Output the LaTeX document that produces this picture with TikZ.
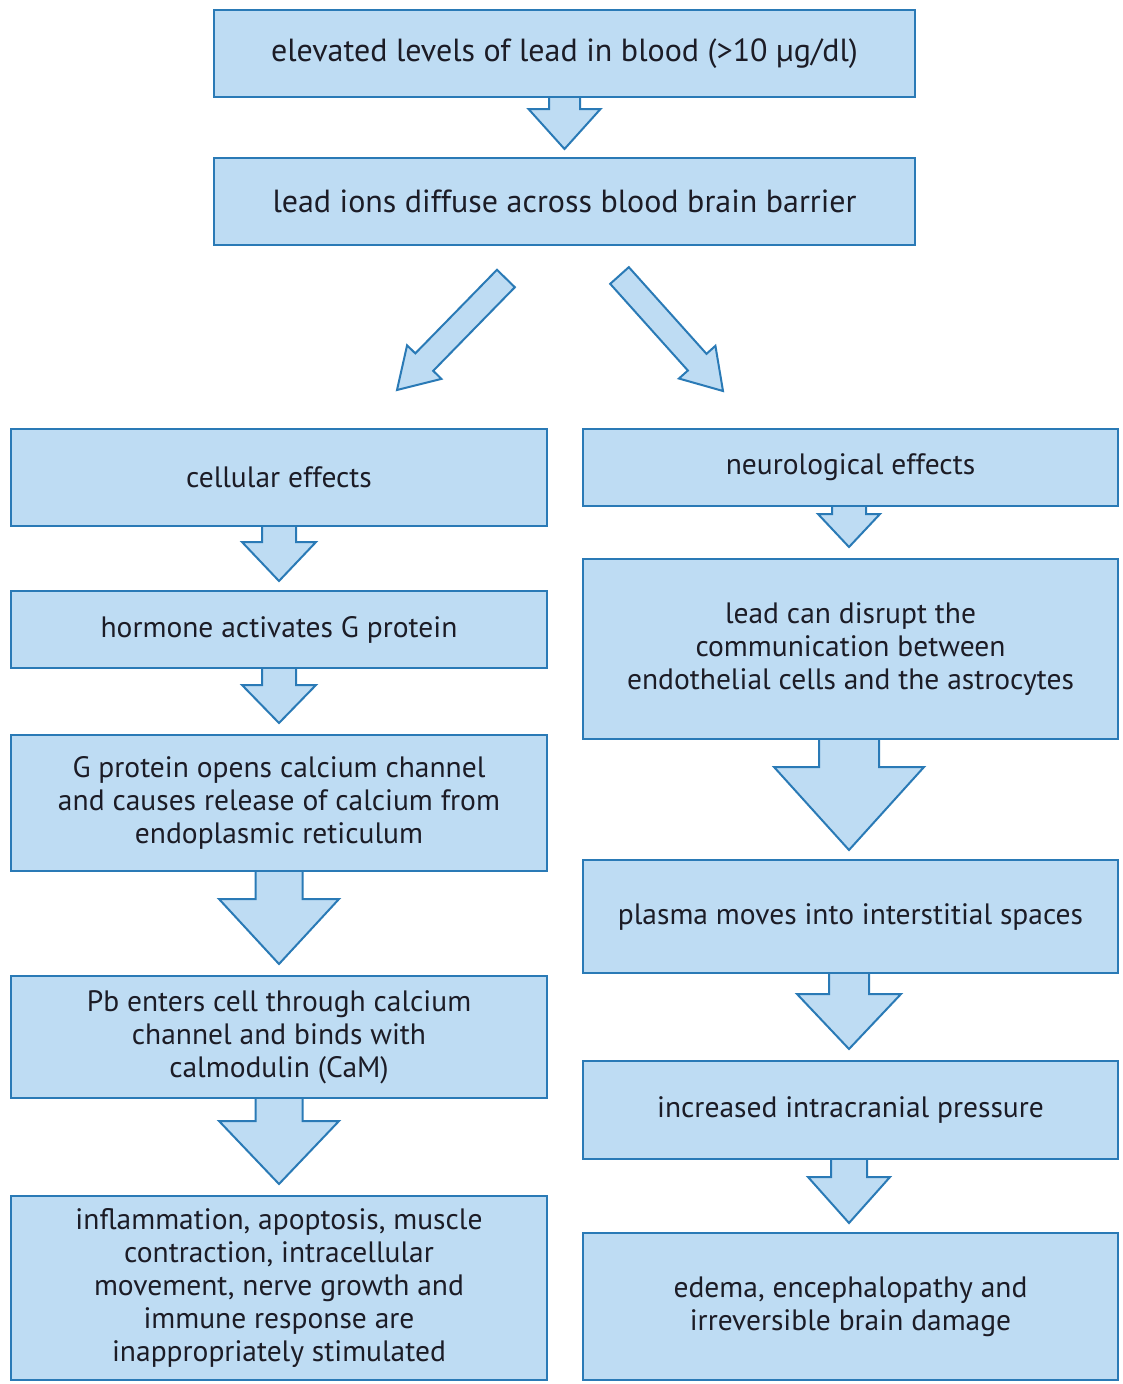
\documentclass[tikz,border=0pt]{standalone}
\usepackage{fontspec}
\setmainfont{PT Sans}
\usetikzlibrary{calc}
\definecolor{bfill}{RGB}{190,220,243}
\definecolor{bdr}{RGB}{42,122,182}
\definecolor{txt}{RGB}{28,28,38}
\tikzset{
  box/.style={draw=bdr, fill=bfill, line width=2pt, align=center, inner sep=0pt,
    font=\fontsize{29.5}{33}\selectfont, text=txt},
  topbox/.style={box, font=\fontsize{32}{36}\selectfont},
  ghost/.style={draw=none, fill=none},
  arrowline/.style={draw=bdr, line width=2pt, line join=miter},
  arrowfill/.style={fill=bfill}
}
% #1 start, #2 tip, #3 shaft half width, #4 head half width, #5 head length, #6 1=closed outline
\newcommand{\blockarr}[6]{%
  \coordinate (ah) at ($(#2)!#5!(#1)$);
  \coordinate (p1) at ($(#1)!#3!90:(#2)$);
  \coordinate (p2) at ($(ah)!#3!90:(#2)$);
  \coordinate (p3) at ($(ah)!#4!90:(#2)$);
  \coordinate (p4) at ($(ah)!#4!-90:(#2)$);
  \coordinate (p5) at ($(ah)!#3!-90:(#2)$);
  \coordinate (p6) at ($(#1)!#3!-90:(#2)$);
  \fill[arrowfill] (p1)--(p2)--(p3)--(#2)--(p4)--(p5)--(p6)--cycle;
  \ifnum#6=1
    \draw[arrowline] (p1)--(p2)--(p3)--(#2)--(p4)--(p5)--(p6)--cycle;
  \else
    \draw[arrowline] (p1)--(p2)--(p3)--(#2)--(p4)--(p5)--(p6);
  \fi
}
\begin{document}
\begin{tikzpicture}[x=1pt,y=-1pt]
\useasboundingbox (0,0) rectangle (1122,1384);
\fill[white] (0,0) rectangle (1122,1384);

% node placeholders for geometry (drawn later on top of arrows)
\path
  (564.5,53.5)  node[box, ghost, minimum width=701pt, minimum height=87pt] (b1) {}
  (564.5,201.5) node[box, ghost, minimum width=701pt, minimum height=87pt] (b2) {}
  (279,477.5)   node[box, ghost, minimum width=536pt, minimum height=97pt] (l1) {}
  (279,629.5)   node[box, ghost, minimum width=536pt, minimum height=77pt] (l2) {}
  (279,803)     node[box, ghost, minimum width=536pt, minimum height=136pt] (l3) {}
  (279,1037)    node[box, ghost, minimum width=536pt, minimum height=122pt] (l4) {}
  (279,1288)    node[box, ghost, minimum width=536pt, minimum height=184pt] (l5) {}
  (850.5,467.5) node[box, ghost, minimum width=535pt, minimum height=77pt] (r1) {}
  (850.5,649)   node[box, ghost, minimum width=535pt, minimum height=180pt] (r2) {}
  (850.5,916.5) node[box, ghost, minimum width=535pt, minimum height=113pt] (r3) {}
  (850.5,1110)  node[box, ghost, minimum width=535pt, minimum height=98pt] (r4) {}
  (850.5,1306.5) node[box, ghost, minimum width=535pt, minimum height=147pt] (r5) {};

% vertical block arrows
\coordinate (t1) at ($(b2.north)+(0,-8)$);
\blockarr{b1.south}{t1}{15.5pt}{36pt}{40pt}{0}
\coordinate (t2) at ($(l2.north)+(0,-9)$);
\blockarr{l1.south}{t2}{17pt}{37pt}{39pt}{0}
\coordinate (t3) at ($(l3.north)+(0,-11)$);
\blockarr{l2.south}{t3}{17pt}{37pt}{38pt}{0}
\coordinate (t4) at ($(l4.north)+(0,-11)$);
\blockarr{l3.south}{t4}{23.5pt}{60pt}{65pt}{0}
\coordinate (t5) at ($(l5.north)+(0,-11)$);
\blockarr{l4.south}{t5}{23.5pt}{60pt}{63pt}{0}
\coordinate (t6) at ($(r2.north)+(-1.5,-11)$);
\coordinate (s6) at ($(r1.south)+(-1.5,0)$);
\blockarr{s6}{t6}{17pt}{31pt}{33pt}{0}
\coordinate (t7) at ($(r3.north)+(-1.5,-9)$);
\coordinate (s7) at ($(r2.south)+(-1.5,0)$);
\blockarr{s7}{t7}{30pt}{75pt}{83pt}{0}
\coordinate (t8) at ($(r4.north)+(-1.5,-11)$);
\coordinate (s8) at ($(r3.south)+(-1.5,0)$);
\blockarr{s8}{t8}{20pt}{52pt}{55pt}{0}
\coordinate (t9) at ($(r5.north)+(-1.5,-9)$);
\coordinate (s9) at ($(r4.south)+(-1.5,0)$);
\blockarr{s9}{t9}{18pt}{41pt}{46pt}{0}

% diagonal arrows
\coordinate (dls) at (505.9,278.5);
\coordinate (dlt) at (397,390);
\blockarr{dls}{dlt}{12.5pt}{24pt}{39pt}{1}
\coordinate (drs) at (619.5,275.5);
\coordinate (drt) at (723,391);
\blockarr{drs}{drt}{12.5pt}{24.5pt}{38.7pt}{1}

% boxes
\node[topbox, minimum width=701pt, minimum height=87pt] at (b1) {elevated levels of lead in blood (>10 µg/dl)};
\node[topbox, minimum width=701pt, minimum height=87pt] at (b2) {lead ions diffuse across blood brain barrier};
\node[box, minimum width=536pt, minimum height=97pt] at (l1) {cellular effects};
\node[box, minimum width=536pt, minimum height=77pt] at (l2) {hormone activates G protein};
\node[box, minimum width=536pt, minimum height=136pt] at (l3) {G protein opens calcium channel\\and causes release of calcium from\\endoplasmic reticulum};
\node[box, minimum width=536pt, minimum height=122pt] at (l4) {Pb enters cell through calcium\\channel and binds with\\calmodulin (CaM)};
\node[box, minimum width=536pt, minimum height=184pt] at (l5) {inflammation, apoptosis, muscle\\contraction, intracellular\\movement, nerve growth and\\immune response are\\inappropriately stimulated};
\node[box, minimum width=535pt, minimum height=77pt] at (r1) {neurological effects};
\node[box, minimum width=535pt, minimum height=180pt] at (r2) {lead can disrupt the\\communication between\\endothelial cells and the astrocytes};
\node[box, minimum width=535pt, minimum height=113pt] at (r3) {plasma moves into interstitial spaces};
\node[box, minimum width=535pt, minimum height=98pt] at (r4) {increased intracranial pressure};
\node[box, minimum width=535pt, minimum height=147pt] at (r5) {edema, encephalopathy and\\irreversible brain damage};
\end{tikzpicture}
\end{document}
